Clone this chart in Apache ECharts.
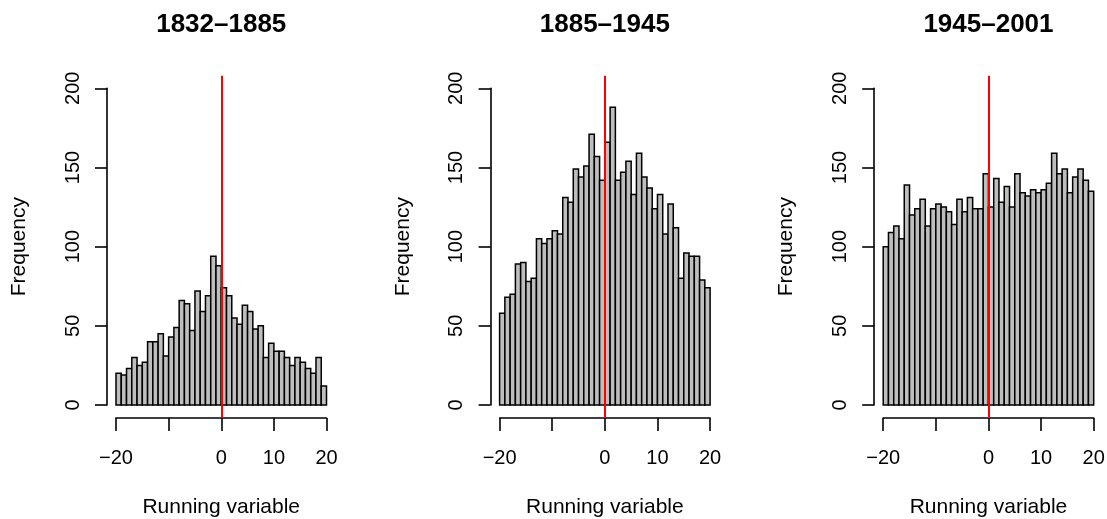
<!DOCTYPE html>
<html style="height: 100%">
<head>
  <meta charset="utf-8">
  <title>Histograms</title>
  <script src="https://cdn.jsdelivr.net/npm/echarts@6/dist/echarts.min.js"></script>
</head>
<body style="height: 100%; margin: 0; background: #fff">
  <div id="container" style="width: 1107px; height: 519px"></div>
  <script type="text/javascript">
    // bin edges (width 1, -20 .. 20)
    const breaks = [-20, -19, -18, -17, -16, -15, -14, -13, -12, -11, -10, -9, -8, -7, -6, -5, -4, -3, -2, -1,
      0, 1, 2, 3, 4, 5, 6, 7, 8, 9, 10, 11, 12, 13, 14, 15, 16, 17, 18, 19, 20];
    const periods = ['1832–1885', '1885–1945', '1945–2001'];
    const counts1832 = [20, 19, 23, 30, 25, 27, 40, 40, 45, 31, 43, 49, 66, 64, 47, 72, 59, 69, 94, 88,
      74, 69, 55, 51, 63, 59, 48, 50, 30, 39, 34, 34, 30, 25, 30, 27, 23, 20, 30, 12];
    const counts1885 = [58, 68, 70, 89, 90, 78, 80, 105, 102, 105, 110, 108, 131, 128, 149, 144, 151, 171, 157, 142,
      166, 188, 142, 147, 154, 133, 159, 144, 137, 124, 133, 108, 127, 112, 80, 96, 94, 94, 79, 74];
    const counts1945 = [100, 109, 113, 105, 139, 120, 124, 130, 113, 124, 127, 125, 122, 114, 130, 122, 131, 124, 124, 146,
      125, 143, 128, 138, 125, 146, 134, 132, 136, 134, 136, 140, 159, 146, 149, 134, 144, 149, 142, 135];
    const xTicks = [-20, -10, 0, 10, 20];
    const xTickLabels = ['\u221220', '', '0', '10', '20'];
    const cutoff = 0;

    const allCounts = [counts1832, counts1885, counts1945];
    const font = 'Liberation Sans, Arial, Helvetica, sans-serif';

    let dom = document.getElementById('container');
    let myChart = echarts.init(dom, null, { renderer: 'canvas' });

    // panel geometry (data region)
    const panelLeft = [116, 499.6, 883.2];
    const panelW = 210.5;
    const panelTop = 88.3;
    const panelH = 316.7;
    // R extends plot region by 4% on each side
    const padX = panelW * 0.04;
    const padY = panelH * 0.04;

    let grid = [], xAxis = [], yAxis = [], series = [], title = [];

    allCounts.forEach((counts, p) => {
      // data grid with visible axes
      grid.push({ left: panelLeft[p], top: panelTop, width: panelW, height: panelH, outerBoundsMode: 'none' });
      // full plot region, for the cutoff line
      grid.push({ left: panelLeft[p] - padX, top: panelTop - padY, width: panelW + 2 * padX, height: panelH + 2 * padY, outerBoundsMode: 'none' });

      xAxis.push({
        gridIndex: 2 * p,
        type: 'value',
        min: -20, max: 20, interval: 10,
        offset: 13,
        name: 'Running variable',
        nameLocation: 'middle',
        nameGap: 79,
        nameTextStyle: { fontFamily: font, fontSize: 21, color: '#000' },
        axisLine: { show: true, onZero: false, lineStyle: { color: '#000', width: 1.6 } },
        axisTick: { show: true, length: 13, lineStyle: { color: '#000', width: 1.6 } },
        axisLabel: {
          fontFamily: font, fontSize: 20, color: '#000', margin: 30,
          formatter: v => xTickLabels[xTicks.indexOf(v)]
        },
        splitLine: { show: false }
      });
      xAxis.push({ gridIndex: 2 * p + 1, type: 'value', min: -20 - 1.6, max: 20 + 1.6, show: false });

      yAxis.push({
        gridIndex: 2 * p,
        type: 'value',
        min: 0, max: 200, interval: 50,
        offset: 9,
        name: 'Frequency',
        nameLocation: 'middle',
        nameRotate: 90,
        nameGap: 77,
        nameTextStyle: { fontFamily: font, fontSize: 21, color: '#000' },
        axisLine: { show: true, onZero: false, lineStyle: { color: '#000', width: 1.6 } },
        axisTick: { show: true, length: 12, lineStyle: { color: '#000', width: 1.6 } },
        axisLabel: { fontFamily: font, fontSize: 20, color: '#000', rotate: 90, margin: 24 },
        splitLine: { show: false }
      });
      yAxis.push({ gridIndex: 2 * p + 1, type: 'value', min: -8, max: 208, show: false });

      series.push({
        type: 'custom',
        xAxisIndex: 2 * p,
        yAxisIndex: 2 * p,
        data: counts.map((c, i) => [breaks[i], breaks[i + 1], c]),
        encode: { x: [0, 1], y: 2 },
        renderItem: (params, api) => {
          const a = api.coord([api.value(0), 0]);
          const b = api.coord([api.value(1), api.value(2)]);
          return {
            type: 'rect',
            shape: { x: a[0], y: b[1], width: b[0] - a[0], height: a[1] - b[1] },
            style: { fill: '#BEBEBE', stroke: '#000', lineWidth: 1.5 }
          };
        },
        z: 2
      });
      series.push({
        type: 'line',
        xAxisIndex: 2 * p + 1,
        yAxisIndex: 2 * p + 1,
        data: [],
        z: 5,
        markLine: {
          silent: true,
          symbol: 'none',
          label: { show: false },
          lineStyle: { color: '#FF0000', type: 'solid', width: 2 },
          data: [{ xAxis: cutoff }]
        }
      });

      title.push({
        text: periods[p],
        left: panelLeft[p] + panelW / 2,
        top: 12,
        padding: 0,
        textAlign: 'center',
        textStyle: { fontFamily: font, fontSize: 26, fontWeight: 'bold', color: '#000' }
      });
    });

    let option = {
      animation: false,
      backgroundColor: '#fff',
      title: title,
      grid: grid,
      xAxis: xAxis,
      yAxis: yAxis,
      series: series
    };

    myChart.setOption(option);
  </script>
</body>
</html>
